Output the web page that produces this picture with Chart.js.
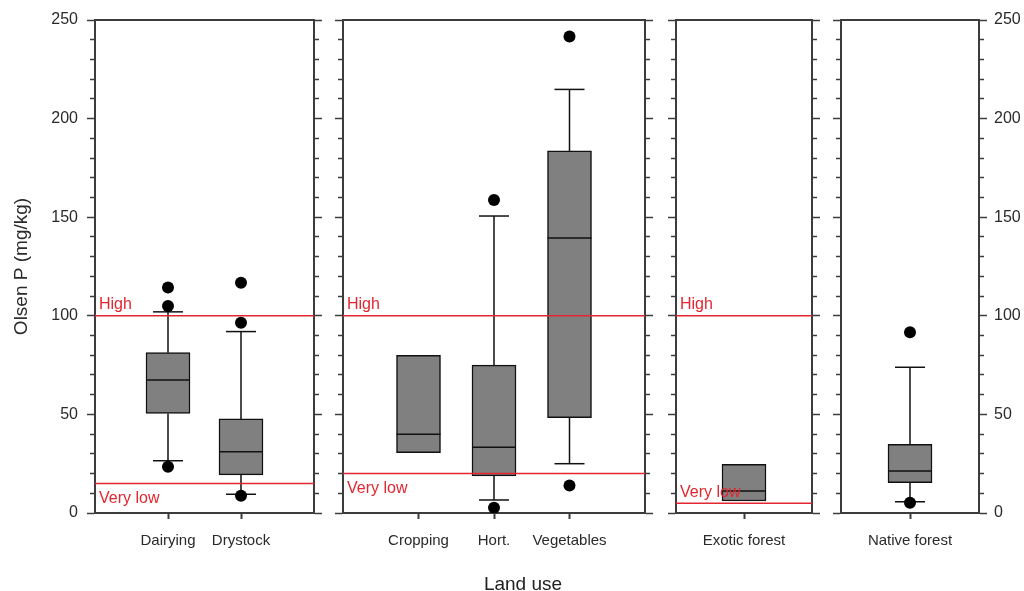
<!DOCTYPE html>
<html>
<head>
<meta charset="utf-8">
<script src="https://cdn.jsdelivr.net/npm/chart.js@4/dist/chart.umd.min.js"></script>
<style>
  html, body { margin: 0; padding: 0; background: #fff; }
  #wrap { position: relative; width: 1024px; height: 591px; overflow: hidden; background: #fff; }
  #wrap canvas { position: absolute; top: 0; }
  #xTitle { position: absolute; left: 423px; width: 200px; top: 573px; line-height: 19px;
            text-align: center; font: 19px 'Liberation Sans', Arial, sans-serif; color: #222; }
</style>
</head>
<body>
<div id="wrap">
  <canvas id="p1" width="329" height="591" style="left:0px"></canvas>
  <canvas id="p2" width="331" height="591" style="left:329px"></canvas>
  <canvas id="p3" width="167" height="591" style="left:660px"></canvas>
  <canvas id="p4" width="197" height="591" style="left:827px"></canvas>
  <div id="xTitle">Land use</div>
</div>
<script>
  // data (Olsen P, mg/kg)
  const categories = ['Dairying', 'Drystock', 'Cropping', 'Hort.', 'Vegetables', 'Exotic forest', 'Native forest'];
  const panelSizes = [2, 3, 1, 1];
  const q1 = [50.5, 19.3, 30.6, 18.8, 48.3, 6.1, 15.4];
  const medians = [67.4, 31.1, 39.9, 33.3, 139.4, 11.2, 21.3];
  const q3 = [81.3, 47.7, 80.0, 75.0, 183.6, 24.7, 34.8];
  const whiskerLow = [26.5, 9.5, null, 6.6, 25.0, null, 5.7];
  const whiskerHigh = [102.0, 92.0, null, 150.6, 214.8, null, 73.9];
  const outliers = [[23.5, 105.0, 114.4], [8.8, 96.5, 116.8], [], [2.7, 158.7], [13.9, 241.6], [], [5.2, 91.6]];

  // threshold lines, one value per panel
  const highLevel = [100, 100, 100, null];
  const veryLowLevel = [15, 20, 5, null];
  const levelNames = ['High', 'Very low'];

  const yTicks = [0, 50, 100, 150, 200, 250];

  const AXIS = '#3c3c3c';
  const TEXT = '#2a2a2a';
  const RED = '#e3262f';
  const BOX = '#808080';
  const INK = '#111';

  Chart.defaults.font.family = "'Liberation Sans', Arial, sans-serif";
  Chart.defaults.color = TEXT;

  // canvas layout: widths of the left / right axis boxes
  const panels = [
    { id: 'p1', axisLeft: 95, axisRight: 15, labelsLeft: true, labelsRight: false },
    { id: 'p2', axisLeft: 14, axisRight: 15, labelsLeft: false, labelsRight: false },
    { id: 'p3', axisLeft: 16, axisRight: 15, labelsLeft: false, labelsRight: false },
    { id: 'p4', axisLeft: 14, axisRight: 45, labelsLeft: false, labelsRight: true }
  ];

  const levelLabels = {
    id: 'levelLabels',
    afterDatasetsDraw(chart) {
      const ctx = chart.ctx;
      const y = chart.scales.y;
      ctx.save();
      ctx.font = "16px 'Liberation Sans', Arial, sans-serif";
      ctx.fillStyle = RED;
      ctx.textAlign = 'left';
      ctx.textBaseline = 'alphabetic';
      chart.data.datasets.forEach(ds => {
        if (!ds.levelLine) return;
        const v = ds.data[0].y;
        const py = y.getPixelForValue(v);
        const below = ds.label === levelNames[1] && v >= 10;
        ctx.fillText(ds.label, chart.chartArea.left + 4, below ? py + 19.5 : py - 6.5);
      });
      ctx.restore();
    }
  };

  function yAxis(position, width, showLabels, panel) {
    const minorDash = position === 'left' ? [0, 3, 5, 100] : [4, 100];
    const axis = {
      type: 'linear', position, min: 0, max: 250,
      afterFit: s => { s.width = width; },
      border: { display: true, color: AXIS, width: 2 },
      grid: {
        drawOnChartArea: false, tickLength: 8, tickColor: AXIS, tickWidth: 1.5,
        tickBorderDash: c => (c.tick && c.tick.value % 50 !== 0) ? minorDash : []
      },
      ticks: {
        stepSize: 10, autoSkip: false, display: showLabels,
        padding: position === 'left' ? 9 : 7,
        font: { size: 16 }, color: TEXT,
        callback: v => yTicks.includes(v) ? v : ''
      }
    };
    if (panel === 0 && position === 'left') {
      axis.title = { display: true, text: 'Olsen P (mg/kg)', font: { size: 19 }, color: TEXT, padding: { top: 10, bottom: 0 } };
    }
    return axis;
  }

  let start = 0;
  panelSizes.forEach((count, pi) => {
    const p = panels[pi];
    const idx = Array.from({ length: count }, (_, i) => start + i);
    const names = idx.map(k => categories[k]);
    const pos = idx.map((_, i) => i + 1);

    const boxes = idx.map((k, i) => ({ x: pos[i], y: [q1[k], q3[k]] }));
    const meds = idx.map((k, i) => ({ x: pos[i], y: medians[k] }));
    const whiskers = [];
    const caps = [];
    idx.forEach((k, i) => {
      if (whiskerHigh[k] != null) {
        whiskers.push({ x: pos[i], y: q3[k] }, { x: pos[i], y: whiskerHigh[k] }, { x: pos[i], y: null });
        caps.push({ x: pos[i], y: whiskerHigh[k] });
      }
      if (whiskerLow[k] != null) {
        whiskers.push({ x: pos[i], y: q1[k] }, { x: pos[i], y: whiskerLow[k] }, { x: pos[i], y: null });
        caps.push({ x: pos[i], y: whiskerLow[k] });
      }
    });
    const dots = idx.flatMap((k, i) => outliers[k].map(v => ({ x: pos[i], y: v })));

    const levels = [];
    if (highLevel[pi] != null) levels.push([levelNames[0], highLevel[pi]]);
    if (veryLowLevel[pi] != null) levels.push([levelNames[1], veryLowLevel[pi]]);

    const datasets = levels.map(([name, v]) => ({
      type: 'line', label: name, levelLine: true,
      data: [{ x: 0, y: v }, { x: count + 1, y: v }],
      borderColor: RED, borderWidth: 1.5, pointRadius: 0, order: 0
    }));
    datasets.push(
      { type: 'scatter', data: dots, pointRadius: 6, pointBackgroundColor: '#000', pointBorderWidth: 0, order: 1 },
      { type: 'scatter', data: meds, pointStyle: 'line', pointRadius: 22, pointBorderColor: INK, pointBorderWidth: 1.5, order: 2 },
      { type: 'scatter', data: caps, pointStyle: 'line', pointRadius: 15, pointBorderColor: INK, pointBorderWidth: 1.5, order: 3 },
      { type: 'line', data: whiskers, borderColor: INK, borderWidth: 1.5, pointRadius: 0, spanGaps: false, order: 4 },
      { type: 'bar', data: boxes, backgroundColor: BOX, borderColor: INK, borderWidth: 1.5,
        borderSkipped: false, barThickness: 44, order: 5 }
    );

    new Chart(document.getElementById(p.id), {
      type: 'bar',
      data: { datasets },
      options: {
        responsive: false,
        animation: false,
        events: [],
        layout: { padding: 0, autoPadding: false },
        plugins: { legend: { display: false }, tooltip: { enabled: false } },
        scales: {
          x: {
            type: 'linear', position: 'bottom', min: 0, max: count + 1, offset: false,
            afterBuildTicks: s => { s.ticks = pos.map(v => ({ value: v })); },
            afterFit: s => { s.height = 78; },
            border: { display: true, color: AXIS, width: 2 },
            grid: { drawOnChartArea: false, offset: false, tickLength: 6, tickColor: AXIS, tickWidth: 2 },
            ticks: { autoSkip: false, maxRotation: 0, padding: 13, font: { size: 15 }, color: TEXT,
                     callback: v => names[v - 1] }
          },
          xTop: {
            type: 'linear', position: 'top', min: 0, max: count + 1,
            afterFit: s => { s.height = 20; },
            border: { display: true, color: AXIS, width: 2 },
            grid: { display: false }, ticks: { display: false }
          },
          y: yAxis('left', p.axisLeft, p.labelsLeft, pi),
          y2: yAxis('right', p.axisRight, p.labelsRight, pi)
        }
      },
      plugins: [levelLabels]
    });
    start += count;
  });
</script>
</body>
</html>
